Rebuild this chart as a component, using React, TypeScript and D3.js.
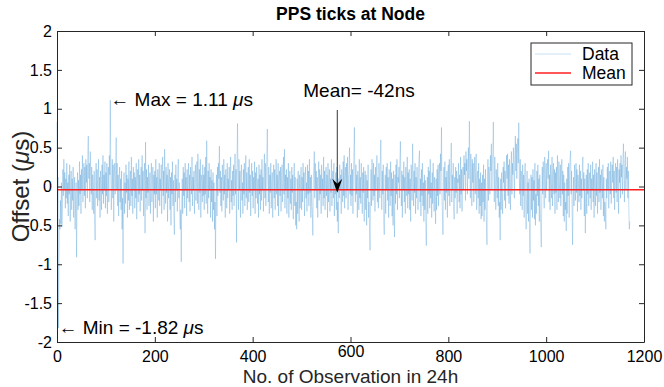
import { useEffect, useRef } from 'react';
import * as d3 from 'd3';

const obs0000 = [
    0.83, -0.35, 0.12, -1.82, -0.9, -0.42, -0.55, -0.18, -0.48, 0.05,
    -0.52, -0.3, 0.22, -0.12, 0.35, -0.05, 0.18, -0.28, 0.1, -0.15,
    0.3, -0.22, 0.05, -0.38, 0.15, -0.1, 0.28, -0.45, 0.02, 0.2,
    -0.3, 0.1, -0.18, 0.25, -0.4, -0.08, 0.12, -0.55, -0.2, 0.05,
    -0.91, -0.15, 0.18, -0.3, 0.08, -0.25, 0.32, -0.1, 0.15, -0.35,
    0.22, -0.05, 0.4, -0.2, 0.1, 0.3, -0.12, 0.25, -0.28, 0.35,
    0.05, 0.28, -0.15, 0.42, 0.65, 0.1, 0.3, -0.2, 0.45, 0.18,
    -0.1, 0.25, -0.3, 0.15, 0.02, -0.35, 0.2, -0.45, -0.69, 0.1,
    0.3, -0.15, 0.22, -0.25, 0.08, 0.35, -0.18, 0.12, -0.4, 0.2,
    0.05, -0.3, 0.28, -0.1, 0.4, -0.22, 0.15, -0.05, 0.32, -0.28
];
const obs0100 = [
    0.18, -0.12, 0.3, -0.35, 0.1, 0.25, -0.2, 0.4, 0.15, 1.11,
    0.2, -0.3, 0.05, 0.35, -0.15, 0.28, -0.45, 0.12, 0.3, -0.1,
    0.22, 0.63, -0.05, 0.3, -0.25, 0.15, -0.38, 0.08, 0.25, -0.2,
    0.1, -0.3, 0.2, -0.55, -0.15, -0.99, -0.1, 0.18, -0.35, 0.05,
    -0.22, 0.28, -0.08, 0.15, -0.4, 0.1, -0.18, 0.32, -0.3, 0.05,
    0.2, -0.25, 0.38, -0.12, 0.1, -0.35, 0.25, -0.05, 0.18, -0.28,
    0.12, -0.15, 0.3, -0.42, 0.05, 0.22, -0.2, 0.35, -0.1, 0.15,
    -0.32, 0.08, 0.25, -0.18, 0.4, -0.05, 0.2, -0.38, 0.1, 0.3,
    -0.6, 0.57, -0.15, 0.22, -0.3, 0.12, -0.08, 0.28, -0.25, 0.05,
    0.18, -0.35, 0.1, 0.3, -0.2, 0.05, 0.25, -0.45, 0.15, -0.1
];
const obs0200 = [
    0.2, -0.28, 0.35, -0.1, 0.12, -0.4, 0.22, 0.05, -0.18, 0.3,
    -0.25, 0.1, -0.05, 0.28, -0.35, 0.15, 0.38, -0.12, 0.2, -0.3,
    0.48, 0.1, -0.22, 0.25, -0.08, 0.15, -0.45, 0.3, -0.15, 0.05,
    0.22, -0.3, 0.12, -0.5, 0.18, -0.1, 0.32, -0.25, 0.08, -0.38,
    -0.62, 0.15, -0.2, 0.28, -0.05, 0.1, -0.32, 0.2, 0.35, -0.15,
    0.05, -0.4, -0.55, -0.3, -0.97, -0.2, 0.1, -0.35, 0.25, -0.12,
    0.18, -0.28, 0.3, -0.05, 0.12, -0.38, 0.22, -0.15, 0.08, 0.3,
    -0.2, 0.15, -0.32, 0.25, 0.05, -0.1, 0.38, -0.25, 0.12, -0.05,
    0.2, -0.35, 0.1, 0.28, -0.18, 0.05, 0.32, -0.22, 0.42, 0.1,
    -0.3, 0.22, -0.08, 0.35, -0.4, 0.15, 0.05, -0.2, 0.28, -0.12
];
const obs0300 = [
    0.15, -0.3, 0.25, -0.1, 0.38, -0.22, 0.59, 0.1, -0.35, 0.2,
    -0.15, 0.3, -0.05, 0.12, -0.4, 0.22, -0.2, 0.08, -0.45, 0.18,
    -0.3, 0.05, -0.55, -0.2, -0.93, -0.1, 0.15, -0.38, 0.25, -0.12,
    0.3, 0.1, 0.52, -0.08, 0.2, -0.25, 0.12, -0.32, 0.28, 0.05,
    -0.18, 0.35, -0.1, 0.15, -0.4, 0.22, 0.05, -0.28, 0.3, -0.15,
    0.1, -0.05, 0.25, -0.35, 0.18, 0.38, -0.2, 0.08, -0.3, 0.2,
    -0.12, 0.28, -0.25, 0.15, 0.42, -0.1, 0.22, -0.72, 0.3, 0.81,
    0.15, -0.3, 0.35, -0.05, 0.2, -0.4, 0.1, 0.28, -0.18, 0.05,
    -0.35, 0.22, -0.1, 0.3, -0.25, 0.12, 0.4, -0.15, 0.18, -0.3,
    0.05, 0.25, -0.2, 0.35, -0.08, 0.15, -0.38, 0.1, 0.3, -0.12
];
const obs0400 = [
    0.2, -0.28, 0.12, -0.05, 0.32, -0.35, 0.18, -0.15, 0.25, 0.05,
    -0.22, 0.1, -0.4, 0.28, -0.1, 0.15, -0.3, 0.22, -0.18, 0.35,
    -0.05, 0.12, -0.32, 0.2, 0.42, -0.15, 0.3, -0.25, 0.08, 0.45,
    0.74, 0.1, -0.2, 0.25, -0.35, 0.15, -0.08, 0.3, -0.28, 0.05,
    0.18, -0.4, 0.1, 0.28, -0.15, 0.22, -0.3, 0.05, 0.35, -0.1,
    0.15, -0.25, 0.3, -0.38, 0.08, 0.2, -0.12, 0.25, -0.32, 0.1,
    0.28, -0.2, 0.05, 0.38, -0.1, 0.48, -0.28, 0.15, -0.05, 0.22,
    -0.35, 0.12, -0.15, 0.3, -0.4, 0.08, 0.2, -0.22, 0.1, -0.3,
    0.25, -0.08, 0.15, -0.42, 0.05, 0.3, -0.25, 0.12, -0.5, -0.2,
    -0.55, 0.1, -0.35, 0.2, -0.1, -0.45, 0.15, -0.28, 0.05, 0.25
];
const obs0500 = [
    -0.3, 0.12, -0.2, 0.3, -0.05, 0.18, -0.38, 0.1, 0.25, -0.15,
    0.05, -0.32, 0.28, -0.1, 0.2, -0.25, 0.35, -0.08, 0.12, -0.4,
    0.15, -0.2, -0.35, -0.63, 0.1, 0.25, 0.45, -0.15, 0.3, -0.05,
    0.2, -0.28, 0.12, -0.4, 0.05, 0.32, -0.18, 0.22, -0.1, 0.15,
    -0.35, 0.28, -0.05, 0.1, -0.25, 0.38, -0.15, 0.2, -0.3, 0.08,
    0.25, -0.12, 0.15, -0.4, 0.3, -0.2, 0.05, 0.22, -0.32, 0.1,
    -0.08, 0.35, -0.25, 0.12, 0.2, -0.15, 0.3, -0.38, 0.05, -0.1,
    0.18, -0.3, 0.25, -0.45, -0.2, -0.6, 0.1, -0.15, 0.28, -0.05,
    0.15, -0.35, 0.22, 0.05, -0.2, 0.32, -0.12, 0.4, -0.28, 0.1,
    0.25, -0.15, 0.3, -0.05, 0.38, -0.3, 0.12, 0.2, 0.5, -0.1
];
const obs0600 = [
    0.15, -0.25, 0.3, -0.12, 0.22, -0.35, 0.1, 0.45, 0.76, 0.05,
    -0.2, 0.28, -0.1, 0.15, -0.4, 0.2, 0.05, -0.3, 0.35, -0.15,
    0.12, -0.22, 0.3, 0.05, -0.35, 0.18, -0.08, 0.25, -0.45, 0.1,
    0.2, -0.3, 0.15, -0.5, 0.08, -0.15, 0.28, -0.4, -0.2, -0.6,
    -0.82, -0.1, 0.22, -0.25, 0.35, 0.05, -0.18, 0.3, -0.12, 0.15,
    -0.32, 0.25, -0.05, 0.18, 0.4, -0.2, 0.12, -0.28, 0.3, 0.1,
    -0.15, 0.35, 0.6, 0.05, -0.3, 0.2, -0.1, 0.28, -0.45, -0.62,
    -0.2, 0.15, -0.35, 0.25, -0.05, 0.3, -0.18, 0.12, -0.4, 0.22,
    0.05, -0.25, 0.32, -0.12, 0.18, -0.38, 0.1, -0.5, 0.2, -0.3,
    -0.65, 0.15, -0.22, 0.28, -0.1, 0.35, -0.3, 0.12, 0.05, 0.25
];
const obs0700 = [
    -0.15, 0.3, 0.58, 0.1, -0.25, 0.2, -0.4, 0.15, -0.05, 0.32,
    -0.2, 0.12, -0.35, 0.25, 0.05, -0.12, 0.38, -0.28, 0.18, -0.1,
    0.22, -0.3, 0.1, -0.45, 0.28, 0.05, -0.18, 0.55, 0.15, -0.25,
    0.2, -0.08, 0.3, -0.35, 0.12, -0.15, 0.25, 0.05, -0.3, 0.18,
    0.35, 0.46, -0.2, 0.1, -0.38, 0.22, -0.12, 0.3, -0.25, 0.05,
    -0.45, 0.15, -0.3, 0.08, -0.5, -0.76, -0.2, 0.12, -0.35, 0.25,
    -0.1, 0.2, -0.28, 0.35, -0.15, 0.05, -0.4, 0.18, -0.22, 0.3,
    -0.05, -0.32, 0.12, -0.2, -0.48, 0.1, -0.3, 0.22, -0.12, 0.28,
    -0.25, 0.15, 0.3, -0.1, 0.42, 0.2, 0.76, -0.15, -0.35, -0.62,
    0.05, 0.25, -0.18, 0.32, -0.3, 0.12, -0.08, 0.2, -0.4, 0.15
];
const obs0800 = [
    0.28, -0.12, 0.35, -0.25, 0.1, 0.22, 0.56, -0.2, 0.15, -0.05,
    0.3, -0.3, -0.42, 0.12, -0.15, 0.25, -0.08, 0.2, -0.35, 0.1,
    0.05, 0.3, -0.2, 0.15, -0.28, 0.38, -0.1, 0.22, -0.32, 0.12,
    0.25, -0.05, 0.4, 0.15, 0.3, -0.18, 0.45, 0.2, 0.35, -0.1,
    0.28, 0.5, 0.1, 0.84, 0.3, -0.15, 0.42, 0.2, -0.25, 0.35,
    0.05, 0.3, -0.2, 0.15, 0.38, -0.1, 0.25, 0.42, -0.3, 0.12,
    0.2, -0.15, 0.3, -0.35, 0.1, -0.25, 0.18, -0.42, 0.05, -0.38,
    0.15, -0.2, 0.28, -0.45, 0.1, -0.3, 0.22, -0.15, -0.5, -0.75,
    0.05, 0.35, -0.18, 0.25, 0.12, -0.1, 0.4, 0.2, 0.55, -0.05,
    0.3, 0.45, 0.83, 0.15, -0.2, 0.38, 0.1, -0.3, 0.22, 0.05
];
const obs0900 = [
    -0.15, 0.3, -0.25, 0.12, -0.4, -0.2, -0.69, 0.1, -0.3, 0.18,
    -0.1, -0.35, 0.25, 0.05, 0.32, -0.18, 0.2, -0.28, 0.15, 0.4,
    0.1, 0.42, -0.12, 0.28, -0.22, 0.35, 0.05, -0.3, 0.2, 0.45,
    -0.1, 0.3, 0.15, 0.5, 0.25, -0.15, 0.38, 0.65, 0.2, 0.55,
    0.1, 0.4, 0.62, 0.3, 0.82, 0.15, -0.1, 0.35, -0.25, 0.2,
    0.05, -0.3, 0.28, -0.12, 0.15, -0.4, 0.1, 0.3, -0.2, -0.55,
    -0.15, 0.2, -0.35, 0.05, -0.45, 0.1, -0.6, -0.86, -0.25, 0.15,
    -0.3, 0.12, -0.4, 0.22, -0.18, 0.08, -0.42, 0.3, -0.5, -0.1,
    -0.35, 0.2, -0.12, 0.28, -0.25, 0.1, -0.45, 0.15, -0.3, -0.55,
    -0.78, -0.2, 0.25, -0.1, 0.32, 0.05, -0.28, 0.38, 0.12, -0.15
];
const obs1000 = [
    0.3, -0.05, 0.2, 0.35, 0.1, 0.46, -0.2, 0.15, -0.3, 0.28,
    0.05, -0.15, 0.38, -0.25, 0.12, 0.3, -0.1, 0.22, -0.35, 0.18,
    -0.08, 0.25, -0.3, 0.4, 0.1, -0.2, 0.32, 0.05, -0.15, 0.28,
    -0.25, 0.12, 0.35, -0.1, 0.2, -0.38, 0.15, -0.45, 0.05, -0.3,
    -0.2, -0.57, 0.1, -0.35, 0.25, -0.12, 0.3, -0.4, 0.18, 0.38,
    0.46, -0.1, 0.2, -0.3, -0.75, -0.15, 0.12, -0.25, 0.28, 0.05,
    -0.18, 0.3, -0.08, 0.22, -0.32, 0.15, 0.05, -0.2, 0.28, -0.12,
    0.2, -0.3, 0.1, -0.15, 0.25, 0.38, -0.05, 0.18, -0.38, 0.1,
    -0.6, -0.2, 0.15, -0.35, 0.22, -0.1, 0.3, -0.25, 0.05, 0.18,
    -0.15, 0.28, -0.3, 0.1, -0.05, 0.32, -0.2, 0.15, -0.4, 0.22
];
const obs1100 = [
    0.05, -0.25, 0.3, -0.12, 0.18, -0.35, 0.1, 0.25, -0.2, 0.35,
    -0.08, 0.15, -0.3, 0.22, 0.05, -0.15, 0.28, -0.38, 0.12, -0.45,
    -0.2, -0.3, -0.55, 0.1, -0.15, 0.25, -0.05, 0.3, -0.28, 0.15,
    0.2, -0.1, 0.32, -0.22, 0.1, 0.28, 0.05, 0.38, -0.15, 0.2,
    -0.3, 0.15, 0.3, -0.08, 0.25, -0.2, 0.35, 0.1, -0.35, 0.22,
    0.05, 0.3, -0.15, 0.4, 0.12, 0.28, -0.1, 0.35, 0.55, 0.2,
    -0.2, 0.3, 0.45, -0.05, 0.25, 0.1, 0.38, -0.15, 0.2, -0.3, -0.55, -0.45
];

const offsets = [
    ...obs0000, ...obs0100, ...obs0200, ...obs0300, ...obs0400, ...obs0500,
    ...obs0600, ...obs0700, ...obs0800, ...obs0900, ...obs1000, ...obs1100
];

const xTicks = [0, 200, 400, 600, 800, 1000, 1200];
const yTicks = [-2, -1.5, -1, -0.5, 0, 0.5, 1, 1.5, 2];
const meanOffset = -0.042; // µs, "Mean= -42ns"
const maxOffset = 1.11;
const minOffset = -1.82;
const legendLabels = ['Data', 'Mean'];

const W = 664;
const H = 387;
const [mt, mr, mb, ml] = [31, 20, 45, 57];
const FONT = '"Liberation Sans", Arial, Helvetica, sans-serif';
const AXIS_COLOR = '#262626';
const DATA_COLOR = '#3d8fd0';
const MEAN_COLOR = '#ff1f1f';

export default function App() {
    const chart = useRef<SVGSVGElement>(null);

    useEffect(() => {
        const svg = d3.select(chart.current);
        svg.selectAll('*').remove();
        svg.attr('font-family', FONT);

        const xScale = d3.scaleLinear().domain([0, 1200]).range([ml, W - mr]);
        const yScale = d3.scaleLinear().domain([-2, 2]).range([H - mb, mt]);

        svg.append('rect').attr('width', W).attr('height', H).attr('fill', '#fff');

        // data trace
        const line = d3
            .line<number>()
            .x((_d, i) => xScale(i))
            .y((d) => yScale(d));
        svg.append('path')
            .datum(offsets)
            .attr('d', line)
            .attr('fill', 'none')
            .attr('stroke', DATA_COLOR)
            .attr('stroke-width', 0.5)
            .attr('stroke-opacity', 0.6);

        // mean line
        svg.append('line')
            .attr('x1', xScale(0))
            .attr('x2', xScale(1200))
            .attr('y1', yScale(meanOffset))
            .attr('y2', yScale(meanOffset))
            .attr('stroke', MEAN_COLOR)
            .attr('stroke-width', 1.7);

        // axes (MATLAB box, ticks pointing inward)
        const styleAxis = (g) => {
            g.select('.domain').attr('stroke', AXIS_COLOR).attr('stroke-width', 1);
            g.selectAll('.tick line').attr('stroke', AXIS_COLOR);
            g.selectAll('.tick text').attr('fill', '#000').attr('font-size', 16).attr('font-family', FONT);
        };
        svg.append('g')
            .attr('transform', `translate(0,${H - mb})`)
            .call(
                d3.axisBottom(xScale).tickValues(xTicks).tickSizeInner(-5).tickSizeOuter(0).tickPadding(9)
                    .tickFormat((d) => String(d))
            )
            .call(styleAxis)
            .call((g) => g.selectAll('.tick text').filter((d) => d === 600).attr('y', 4));
        svg.append('g')
            .attr('transform', `translate(0,${mt})`)
            .call(d3.axisTop(xScale).tickValues(xTicks).tickSizeInner(-5).tickSizeOuter(0).tickFormat(() => ''))
            .call(styleAxis);
        svg.append('g')
            .attr('transform', `translate(${ml},0)`)
            .call(
                d3.axisLeft(yScale).tickValues(yTicks).tickSizeInner(-5).tickSizeOuter(0).tickPadding(5)
                    .tickFormat((d) => String(d))
            )
            .call(styleAxis);
        svg.append('g')
            .attr('transform', `translate(${W - mr},0)`)
            .call(d3.axisRight(yScale).tickValues(yTicks).tickSizeInner(-5).tickSizeOuter(0).tickFormat(() => ''))
            .call(styleAxis);

        // title + axis labels
        svg.append('text')
            .attr('x', (ml + W - mr) / 2)
            .attr('y', 20)
            .attr('text-anchor', 'middle')
            .attr('font-size', 17.5)
            .attr('font-weight', 'bold')
            .text('PPS ticks at Node');
        svg.append('text')
            .attr('x', (ml + W - mr) / 2)
            .attr('y', 383)
            .attr('text-anchor', 'middle')
            .attr('font-size', 19)
            .attr('fill', '#262626')
            .text('No. of Observation in 24h');
        const yLabel = svg.append('text')
            .attr('transform', `translate(29,${yScale(0)}) rotate(-90)`)
            .attr('text-anchor', 'middle')
            .attr('font-size', 24)
            .attr('fill', '#262626');
        yLabel.append('tspan').text('Offset (');
        yLabel.append('tspan').attr('font-style', 'italic').text('μ');
        yLabel.append('tspan').text('s)');

        // annotations
        const maxIdx = offsets.indexOf(maxOffset);
        const minIdx = offsets.indexOf(minOffset);
        const maxText = svg.append('text')
            .attr('x', xScale(maxIdx))
            .attr('y', yScale(maxOffset) + 6)
            .attr('font-size', 19);
        maxText.append('tspan').text(`← Max = ${maxOffset} `);
        maxText.append('tspan').attr('font-style', 'italic').text('μ');
        maxText.append('tspan').text('s');

        const minText = svg.append('text')
            .attr('x', xScale(minIdx))
            .attr('y', yScale(minOffset) + 6)
            .attr('font-size', 19);
        minText.append('tspan').text(`← Min = ${minOffset} `);
        minText.append('tspan').attr('font-style', 'italic').text('μ');
        minText.append('tspan').text('s');

        const arrowX = xScale(573);
        svg.append('text')
            .attr('x', arrowX - 34)
            .attr('y', 97)
            .attr('font-size', 19)
            .text(`Mean= ${Math.round(meanOffset * 1000)}ns`);
        svg.append('line')
            .attr('x1', arrowX)
            .attr('x2', arrowX)
            .attr('y1', 110)
            .attr('y2', yScale(meanOffset) - 4)
            .attr('stroke', '#000')
            .attr('stroke-width', 0.8);
        const tipY = yScale(meanOffset) + 3;
        svg.append('path')
            .attr('d', `M${arrowX},${tipY} L${arrowX - 5},${tipY - 14} L${arrowX},${tipY - 9} L${arrowX + 5},${tipY - 14} Z`)
            .attr('fill', '#000');

        // legend
        const lg = svg.append('g').attr('transform', 'translate(531,43)');
        lg.append('rect')
            .attr('width', 101)
            .attr('height', 42)
            .attr('fill', '#fff')
            .attr('stroke', AXIS_COLOR)
            .attr('stroke-width', 1);
        const legendColors = ['#c6dff2', MEAN_COLOR];
        legendLabels.forEach((label, i) => {
            const y = 11 + i * 19;
            lg.append('line')
                .attr('x1', 4)
                .attr('x2', 40)
                .attr('y1', y)
                .attr('y2', y)
                .attr('stroke', legendColors[i])
                .attr('stroke-width', i === 0 ? 1 : 1.6);
            lg.append('text')
                .attr('x', 51)
                .attr('y', y + 6)
                .attr('font-size', 17.5)
                .text(label);
        });
    }, []);

    return (
        <svg
            ref={chart}
            width={W}
            height={H}
            style={{ position: 'absolute', left: 0, top: 0, display: 'block' }}
        />
    );
}
